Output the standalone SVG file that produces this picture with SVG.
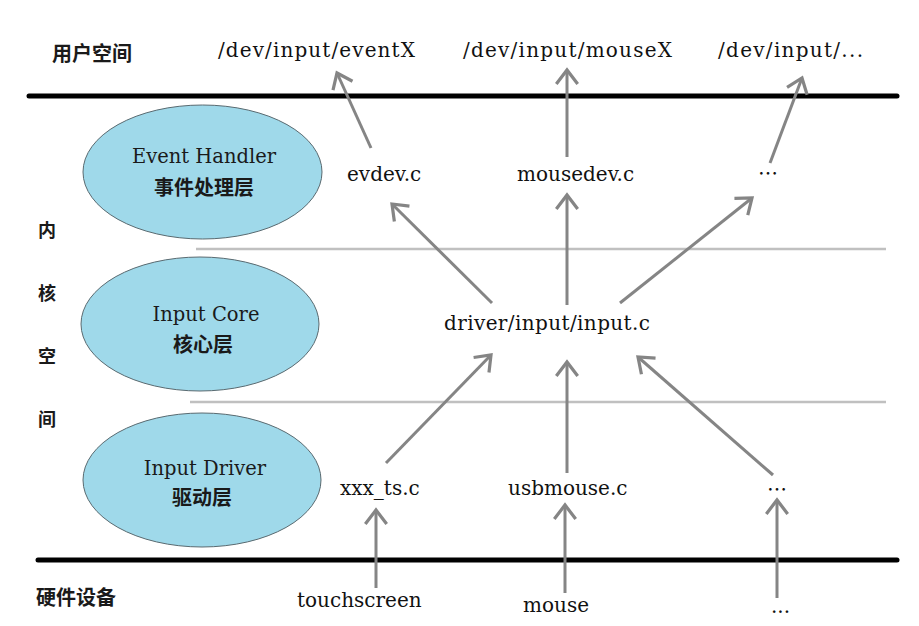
<svg xmlns="http://www.w3.org/2000/svg" width="919" height="626" viewBox="0 0 919 626">
<style>
.bg{fill:#ffffff}
.thick{stroke:#000;stroke-width:5;stroke-linecap:round}
.thin{stroke:#c0c0c0;stroke-width:2.5}
.layer{fill:#9fd9ea;stroke:#5a6a70;stroke-width:1}
.en{font-family:"DejaVu Serif","Liberation Serif",serif;font-size:19.5px;fill:#1a1a1a;text-anchor:middle}
.cn{font-family:"Noto Sans CJK SC","Noto Sans",sans-serif;font-weight:700;fill:#1a1a1a}
.cnl{font-size:20px;text-anchor:middle}
.side{font-size:18px;text-anchor:middle}
.file{font-family:"DejaVu Serif","Liberation Serif",serif;font-size:20px;fill:#111}
.path{font-family:"DejaVu Serif","Liberation Serif",serif;font-size:20px;fill:#111}
.dots{font-family:"Noto Sans CJK SC",sans-serif;font-size:20px;fill:#111}
.arr{stroke:#858585;stroke-width:3;fill:none;marker-end:url(#ah)}
</style>
<defs>
<marker id="ah" markerUnits="userSpaceOnUse" markerWidth="30" markerHeight="30" refX="0" refY="0" viewBox="-16 -14 20 28" orient="auto" overflow="visible">
<path d="M -13 -10 L 0 0 L -13 10" fill="none" stroke="#858585" stroke-width="3" stroke-linejoin="miter"/>
</marker>
</defs>
<rect class="bg" x="0" y="0" width="919" height="626"/>

<g id="boundaries">
<line class="thick" x1="29" y1="96" x2="897" y2="96"/>
<line class="thick" x1="38" y1="560" x2="897" y2="560"/>
<line class="thin" x1="196" y1="249" x2="886" y2="249"/>
<line class="thin" x1="190" y1="402" x2="886" y2="402"/>
</g>

<g id="space-labels">
<text class="cn" x="52" y="61" font-size="20">用户空间</text>
<text class="cn side" x="47" y="237">内</text>
<text class="cn side" x="47" y="300">核</text>
<text class="cn side" x="47" y="363">空</text>
<text class="cn side" x="47" y="426">间</text>
<text class="cn" x="36" y="605" font-size="20">硬件设备</text>
</g>

<g id="layer-event-handler">
<ellipse class="layer" cx="202.5" cy="172" rx="119.5" ry="67"/>
<text class="en" x="204" y="163">Event Handler</text>
<text class="cn cnl" x="204" y="195">事件处理层</text>
</g>
<g id="layer-input-core">
<ellipse class="layer" cx="200" cy="324" rx="119" ry="67"/>
<text class="en" x="206" y="321">Input Core</text>
<text class="cn cnl" x="203" y="352">核心层</text>
</g>
<g id="layer-input-driver">
<ellipse class="layer" cx="202" cy="480" rx="119" ry="67"/>
<text class="en" x="205" y="475">Input Driver</text>
<text class="cn cnl" x="202" y="505">驱动层</text>
</g>

<g id="node-eventX"><text class="path" x="218" y="57" textLength="197" lengthAdjust="spacing">/dev/input/eventX</text></g>
<g id="node-mouseX"><text class="path" x="463" y="57" textLength="209" lengthAdjust="spacing">/dev/input/mouseX</text></g>
<g id="node-devmore"><text class="path" x="718" y="57" textLength="145" lengthAdjust="spacing">/dev/input/...</text></g>

<g id="node-evdev"><text class="file" x="347" y="181">evdev.c</text></g>
<g id="node-mousedev"><text class="file" x="517" y="181">mousedev.c</text></g>
<g id="node-handler-more"><text class="dots" x="758" y="181">…</text></g>

<g id="node-input"><text class="file" x="444" y="330" textLength="206" lengthAdjust="spacing">driver/input/input.c</text></g>

<g id="node-xxx-ts"><text class="file" x="340" y="495">xxx_ts.c</text></g>
<g id="node-usbmouse"><text class="file" x="508" y="495">usbmouse.c</text></g>
<g id="node-driver-more"><text class="dots" x="767" y="497">…</text></g>

<g id="node-touchscreen"><text class="file" x="297" y="607">touchscreen</text></g>
<g id="node-mouse"><text class="file" x="523" y="612">mouse</text></g>
<g id="node-hw-more"><text class="file" x="771" y="613">...</text></g>

<g id="connectors">
<line class="arr" x1="371" y1="148" x2="337" y2="73"/>
<line class="arr" x1="567" y1="157" x2="567" y2="70"/>
<line class="arr" x1="770" y1="163" x2="802" y2="78"/>
<line class="arr" x1="492" y1="303" x2="392" y2="204"/>
<line class="arr" x1="567" y1="305" x2="567" y2="195"/>
<line class="arr" x1="620" y1="303" x2="752" y2="198"/>
<line class="arr" x1="386" y1="463" x2="491" y2="355"/>
<line class="arr" x1="567" y1="473" x2="567" y2="362"/>
<line class="arr" x1="773" y1="475" x2="638" y2="357"/>
<line class="arr" x1="376" y1="588" x2="376" y2="510"/>
<line class="arr" x1="565" y1="593" x2="565" y2="505"/>
<line class="arr" x1="777" y1="598" x2="777" y2="500"/>
</g>
</svg>
